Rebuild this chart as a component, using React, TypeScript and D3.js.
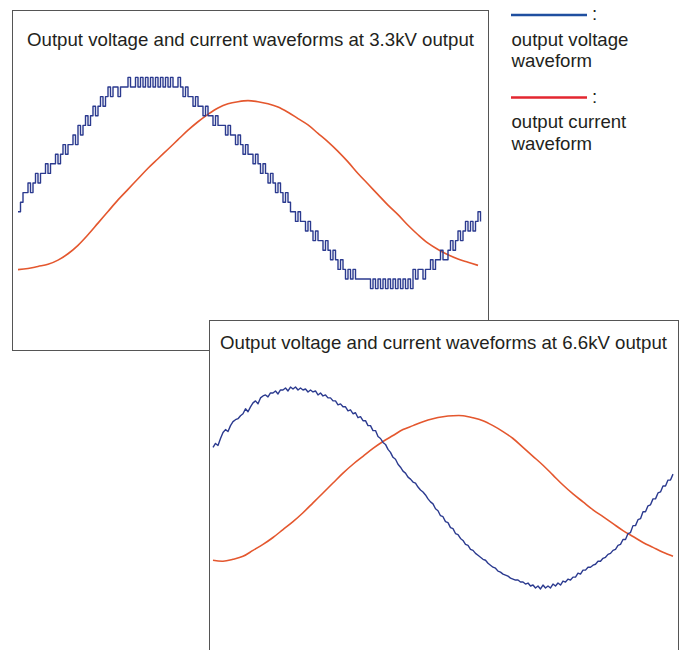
import * as d3 from 'd3'

// 3.3kV: voltage as inverter level index (-11..11), current in % of voltage peak
const VOLT_LEVELS = 11
const VOLT_33 = [
  -3, -2, -1, -1, 0, -1, 0, 1, 0, 1,
  1, 2, 1, 2, 2, 3, 2, 3, 4, 3,
  4, 4, 5, 4, 6, 5, 6, 7, 6, 7,
  8, 7, 8, 9, 8, 9, 10, 9, 10, 10,
  9, 10, 10, 10, 11, 10, 10, 11, 10, 11,
  10, 11, 10, 11, 10, 11, 10, 11, 10, 11,
  10, 11, 10, 10, 11, 10, 9, 10, 9, 9,
  8, 9, 8, 8, 7, 8, 7, 7, 6, 7,
  6, 6, 6, 5, 6, 5, 5, 4, 5, 4,
  3, 4, 3, 3, 2, 3, 2, 1, 2, 1,
  0, 1, 0, -1, 0, -1, -2, -1, -2, -3,
  -3, -4, -3, -4, -4, -5, -4, -5, -6, -5,
  -6, -6, -7, -6, -7, -8, -7, -8, -9, -8,
  -9, -10, -9, -10, -9, -10, -10, -10, -10, -10,
  -10, -11, -10, -11, -10, -11, -10, -11, -10, -11,
  -10, -11, -10, -11, -10, -11, -10, -11, -9, -10,
  -9, -9, -10, -9, -9, -8, -9, -8, -8, -7,
  -8, -8, -7, -6, -7, -6, -5, -6, -5, -4,
  -5, -4, -5, -4, -3, -4,
]
const CURR_33 = [
  -82, -81, -79, -77, -73, -67, -59, -49, -38, -27,
  -16, -6, 4, 14, 23, 32, 41, 50, 58, 65,
  71, 75, 77, 78, 77, 75, 72, 67, 61, 55,
  47, 39, 30, 20, 9, -1, -11, -21, -30, -40,
  -49, -57, -63, -68, -72, -75, -78,
]

// 6.6kV: both in % of voltage peak
const VOLT_66 = [
  41, 45, 43, 50, 56, 59, 57, 63, 67, 69, 70, 73, 75, 80, 77, 82,
  86, 88, 85, 91, 93, 94, 92, 96, 96, 98, 95, 99, 99, 101, 98, 102,
  100, 102, 99, 101, 99, 100, 97, 99, 97, 98, 94, 96, 93, 94, 91, 91,
  88, 88, 84, 85, 82, 82, 78, 79, 75, 76, 71, 72, 68, 68, 63, 63,
  58, 58, 52, 50, 46, 44, 39, 36, 31, 29, 24, 21, 17, 15, 11, 9,
  6, 5, 1, -2, -4, -7, -11, -14, -16, -21, -23, -28, -29, -34, -35, -40,
  -41, -46, -47, -51, -53, -57, -58, -62, -63, -66, -68, -70, -72, -73, -76, -78,
  -80, -81, -84, -85, -87, -88, -89, -91, -92, -93, -93, -95, -95, -97, -96, -99,
  -98, -101, -99, -102, -98, -101, -99, -101, -97, -99, -96, -98, -94, -95, -92, -93,
  -90, -90, -86, -87, -83, -83, -80, -80, -78, -77, -74, -74, -71, -70, -67, -66,
  -63, -62, -58, -57, -52, -52, -46, -45, -38, -38, -32, -31, -24, -24, -18, -17,
  -11, -11, -5, -4, 2, 2, 8, 8, 14,
]
const CURR_66 = [
  -73, -74, -72, -69, -63, -57, -50, -42, -34, -25,
  -15, -5, 5, 15, 24, 32, 40, 47, 53, 59,
  63, 67, 70, 72, 73, 73, 71, 68, 63, 57,
  50, 41, 32, 23, 13, 3, -6, -14, -22, -29,
  -36, -43, -49, -55, -60, -65, -69,
]
const CURR_STEP = 4 // current sampled every 4th voltage sample

const TITLE_33 = 'Output voltage and current waveforms at 3.3kV output'
const TITLE_66 = 'Output voltage and current waveforms at 6.6kV output'
const LEGEND = [
  { lines: ['output voltage', 'waveform'], color: '#1f4fa0' },
  { lines: ['output current', 'waveform'], color: '#e3262f' },
]

const FONT = '"Liberation Sans", Arial, Helvetica, sans-serif'
const TEXT = '#231f20'
const BLUE = '#2b3a8f'
const RED = '#e4572e'

type Panel = {
  frame: [number, number, number, number]
  title: string
  titleX: number
  titleY: number
  xr: [number, number]
  yr: [number, number]
  volt: number[]
  curr: number[]
  step: boolean
}

function WavePanel({ p }: { p: Panel }) {
  const [fx, fy, fw, fh] = p.frame
  const x = d3.scaleLinear().domain([0, p.volt.length - 1]).range(p.xr)
  const y = d3.scaleLinear().domain([-100, 100]).range(p.yr)
  const vLine = d3
    .line<number>()
    .x((_, i) => x(i))
    .y((d) => y(d))
    .curve(p.step ? d3.curveStepAfter : d3.curveLinear)
  const cLine = d3
    .line<number>()
    .x((_, i) => x(i * CURR_STEP))
    .y((d) => y(d))
    .curve(d3.curveCatmullRom)
  return (
    <g>
      <rect x={fx} y={fy} width={fw} height={fh} fill="#fff" stroke="#555" strokeWidth={1} />
      <text
        x={p.titleX}
        y={p.titleY}
        fontFamily={FONT}
        fontSize={18.6}
        fill={TEXT}
        textLength={447}
        lengthAdjust="spacingAndGlyphs"
      >
        {p.title}
      </text>
      <path d={cLine(p.curr) || ''} fill="none" stroke={RED} strokeWidth={1.6} />
      <path d={vLine(p.volt) || ''} fill="none" stroke={BLUE} strokeWidth={1.4} strokeLinejoin="round" />
    </g>
  )
}

export default function App() {
  const panels: Panel[] = [
    {
      frame: [12.5, 10.5, 476, 340],
      title: TITLE_33,
      titleX: 27,
      titleY: 45.5,
      xr: [18, 480.5],
      yr: [288.6, 77.4],
      volt: VOLT_33.map((l) => (l / VOLT_LEVELS) * 100),
      curr: CURR_33,
      step: true,
    },
    {
      frame: [209.5, 320.5, 469, 360],
      title: TITLE_66,
      titleX: 220,
      titleY: 348.5,
      xr: [213, 673],
      yr: [587, 389],
      volt: VOLT_66,
      curr: CURR_66,
      step: false,
    },
  ]
  const legendY = [15, 97.5]
  return (
    <svg
      width={688}
      height={650}
      viewBox="0 0 688 650"
      style={{ position: 'absolute', left: 0, top: 0, background: '#fff' }}
    >
      {panels.map((p, i) => (
        <WavePanel key={i} p={p} />
      ))}
      {LEGEND.map((item, i) => (
        <g key={item.color} fontFamily={FONT} fontSize={18.6} fill={TEXT}>
          <line x1={511} x2={587} y1={legendY[i]} y2={legendY[i]} stroke={item.color} strokeWidth={2.6} />
          <text x={592} y={legendY[i] + 5}>:</text>
          {item.lines.map((t, j) => (
            <text key={t} x={511.5} y={legendY[i] + 30.5 + j * 21.5}>
              {t}
            </text>
          ))}
        </g>
      ))}
    </svg>
  )
}
